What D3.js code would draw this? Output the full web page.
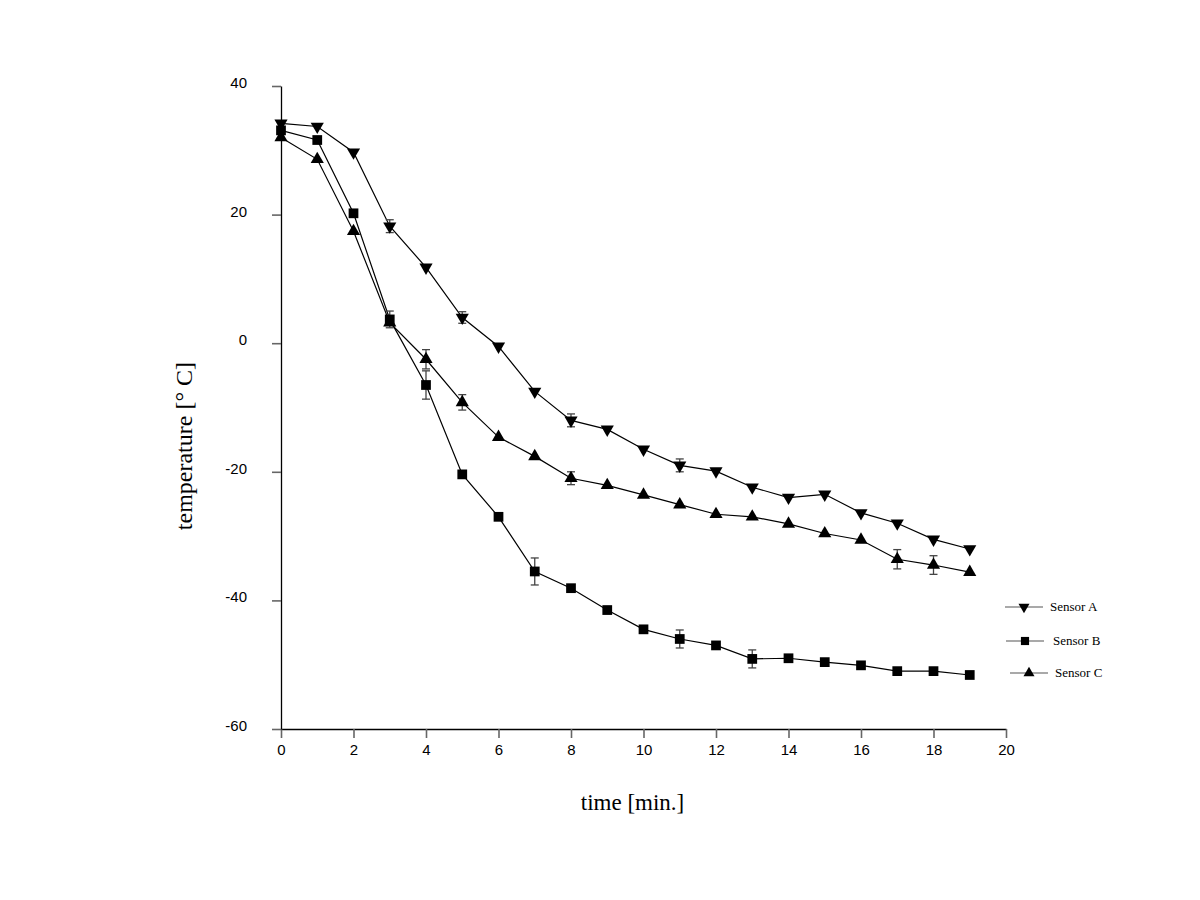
<!DOCTYPE html>
<html>
<head>
<meta charset="utf-8">
<script src="https://cdn.jsdelivr.net/npm/d3@7"></script>
<style>
  body { margin: 0; background: #fff; }
  .tick text { font-family: "Liberation Sans", Arial, sans-serif; font-size: 15px; fill: #000; }
</style>
</head>
<body>
<script>
// time in minutes
let times = [0,1,2,3,4,5,6,7,8,9,10,11,12,13,14,15,16,17,18,19];

// temperature per sensor
let sensorA = [34.2,33.7,29.7,18.2,11.8,4.0,-0.5,-7.5,-12.0,-13.4,-16.5,-19.0,-19.9,-22.4,-24.0,-23.5,-26.4,-28.0,-30.5,-32.0];
let sensorB = [33.1,31.6,20.2,3.7,-6.5,-20.4,-27.0,-35.5,-38.1,-41.5,-44.5,-46.0,-47.0,-49.1,-49.0,-49.6,-50.1,-51.0,-51.0,-51.6];
let sensorC = [32.0,28.6,17.4,3.2,-2.5,-9.2,-14.6,-17.6,-21.0,-22.1,-23.6,-25.1,-26.6,-27.0,-28.1,-29.6,-30.6,-33.6,-34.5,-35.6];

// error bars (+/-), 0 = none drawn
let errA = [0,0,0,1.0,0,0.9,0,0,1.0,0,0,1.0,0,0,0,0,0,0,0,0];
let errB = [0,0,0,1.3,2.2,0.5,0,2.1,0,0.5,0,1.4,0,1.4,0,0,0,0,0,0];
let errC = [0,0,0,0,1.5,1.2,0,0,1.0,0,0,0,0,0,0,0,0,1.5,1.45,0];

let sensorNames = ["Sensor A", "Sensor B", "Sensor C"];
let xTicks = [0,2,4,6,8,10,12,14,16,18,20];
let yTicks = [-60,-40,-20,0,20,40];

let svgWidth = 1200, svgHeight = 900;
let margin = {top: 86, left: 281, right: 194, bottom: 171};
let width = svgWidth - margin.left - margin.right;
let height = svgHeight - margin.top - margin.bottom;

let svg = d3.select("body").append("svg")
  .attr("width", svgWidth)
  .attr("height", svgHeight);

let canvas = svg.append("g")
  .attr("transform", "translate(" + margin.left + "," + margin.top + ")");

let xscale = d3.scaleLinear().domain([0, 20]).range([0, width]);
let yscale = d3.scaleLinear().domain([-60, 40]).range([height, 0]);

// axes (plain hyphen minus like the original)
let xAxis = d3.axisBottom(xscale).tickValues(xTicks).tickFormat(d => String(d))
  .tickSize(9).tickPadding(6).tickSizeOuter(0);
let yAxis = d3.axisLeft(yscale).tickValues(yTicks).tickFormat(d => String(d))
  .tickSize(9).tickPadding(25).tickSizeOuter(0);

let gx = canvas.append("g").attr("transform", "translate(0," + height + ")").call(xAxis);
let gy = canvas.append("g").call(yAxis);
[gx, gy].forEach(g => {
  g.select(".domain").attr("stroke", "#000").attr("stroke-width", 1.3);
  g.selectAll(".tick line").attr("stroke", "#666").attr("stroke-width", 1.6);
});
gy.selectAll(".tick text").attr("dy", "0.1em");

canvas.append("text")
  .attr("x", xscale(10) - 11)
  .attr("y", height + 81)
  .attr("text-anchor", "middle")
  .style("font-family", "'Liberation Serif', 'Times New Roman', serif")
  .style("font-size", "23px")
  .text("time [min.]");

canvas.append("text")
  .attr("transform", "translate(-89," + yscale(-16) + ") rotate(-90)")
  .attr("text-anchor", "middle")
  .style("font-family", "'Liberation Serif', 'Times New Roman', serif")
  .style("font-size", "24px")
  .text("temperature [° C]");

// series
let series = [
  {name: sensorNames[0], vals: sensorA, err: errA, shape: d3.symbolTriangle, rot: 180, size: 75},
  {name: sensorNames[1], vals: sensorB, err: errB, shape: d3.symbolSquare, rot: 0, size: 95},
  {name: sensorNames[2], vals: sensorC, err: errC, shape: d3.symbolTriangle, rot: 0, size: 75}
];

let line = d3.line().x(d => xscale(d.t)).y(d => yscale(d.v));

series.forEach(s => {
  let pts = times.map((t, i) => ({t: t, v: s.vals[i], e: s.err[i]}));
  let g = canvas.append("g");
  g.append("path")
    .datum(pts)
    .attr("d", line)
    .attr("fill", "none")
    .attr("stroke", "#000")
    .attr("stroke-width", 1.2);

  let eb = g.selectAll(".err").data(pts.filter(d => d.e > 0)).enter().append("g")
    .attr("stroke", "#444").attr("stroke-width", 1.3);
  eb.append("line")
    .attr("x1", d => xscale(d.t)).attr("x2", d => xscale(d.t))
    .attr("y1", d => yscale(d.v + d.e)).attr("y2", d => yscale(d.v - d.e));
  eb.append("line")
    .attr("x1", d => xscale(d.t) - 4).attr("x2", d => xscale(d.t) + 4)
    .attr("y1", d => yscale(d.v + d.e)).attr("y2", d => yscale(d.v + d.e));
  eb.append("line")
    .attr("x1", d => xscale(d.t) - 4).attr("x2", d => xscale(d.t) + 4)
    .attr("y1", d => yscale(d.v - d.e)).attr("y2", d => yscale(d.v - d.e));

  g.selectAll(".pt").data(pts).enter().append("path")
    .attr("d", d3.symbol().type(s.shape).size(s.size))
    .attr("transform", d => "translate(" + xscale(d.t) + "," + yscale(d.v) + ") rotate(" + s.rot + ")")
    .attr("fill", "#000");
});

// legend
let legendPos = [{x: 1005, y: 607, tx: 1050}, {x: 1006, y: 641, tx: 1053}, {x: 1010, y: 673, tx: 1055}];
series.forEach((s, i) => {
  let p = legendPos[i];
  let lg = svg.append("g");
  lg.append("line")
    .attr("x1", p.x).attr("x2", p.x + 38)
    .attr("y1", p.y).attr("y2", p.y)
    .attr("stroke", "#555").attr("stroke-width", 1.2);
  lg.append("path")
    .attr("d", d3.symbol().type(s.shape).size(s.size * 0.7))
    .attr("transform", "translate(" + (p.x + 19) + "," + p.y + ") rotate(" + s.rot + ")")
    .attr("fill", "#000");
  lg.append("text")
    .attr("x", p.tx).attr("y", p.y + 4)
    .style("font-family", "'Liberation Serif', 'Times New Roman', serif")
    .style("font-size", "13px")
    .text(s.name);
});
</script>
</body>
</html>
